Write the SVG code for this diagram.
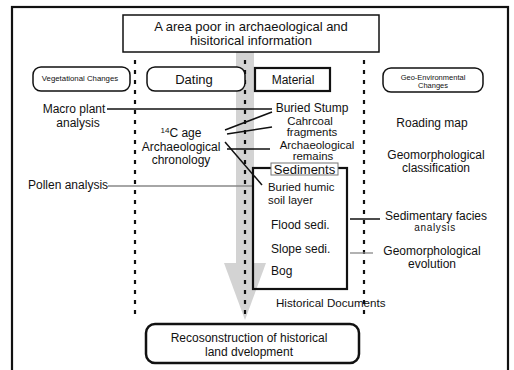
<svg xmlns="http://www.w3.org/2000/svg" width="514" height="370" viewBox="0 0 514 370">
<style>
text{font-family:"Liberation Sans",Arial,sans-serif;fill:#111;}
.t12{font-size:12px;}
.t11{font-size:11.4px;}
.t13{font-size:13px;}
.c{text-anchor:middle;}
.dot{stroke:#111;stroke-width:2.2;stroke-dasharray:4 6;fill:none;}
.ln{stroke:#111;stroke-width:1.5;fill:none;}
.gl{stroke:#888;stroke-width:1.3;fill:none;}
.rbox{fill:#fff;stroke:#111;stroke-width:1.5;}
</style>
<rect x="0" y="0" width="514" height="370" fill="#fff"/>
<rect id="frame" x="12" y="7" width="496" height="370" fill="none" stroke="#111" stroke-width="2.2"/>

<g id="flow-arrow">
<rect x="236" y="52" width="18" height="212" fill="#d3d3d3"/>
<polygon points="224,263 266,263 245,320" fill="#d3d3d3"/>
</g>

<g id="columns">
<line class="dot" x1="135" y1="60" x2="135" y2="318"/>
<line class="dot" x1="245" y1="60" x2="245" y2="318"/>
<line class="dot" x1="364" y1="60" x2="364" y2="318"/>
</g>

<g id="top">
<rect x="123" y="15" width="256" height="37" fill="#fff" stroke="#111" stroke-width="1.5"/>
<text class="t13 c" x="251" y="31">A area poor in archaeological and</text>
<text class="t13 c" x="251" y="45">hisitorical information</text>
</g>

<g id="veg">
<rect class="rbox" x="33" y="67" width="97" height="24" rx="8"/>
<text class="c" x="80" y="81" style="font-size:7.8px">Vegetational Changes</text>
</g>
<g id="dating">
<rect class="rbox" x="147" y="67" width="98" height="24" rx="8"/>
<text class="t13 c" x="194" y="84">Dating</text>
</g>
<g id="material">
<rect x="255" y="68" width="75" height="23" fill="#fff" stroke="#111" stroke-width="2.2"/>
<text class="t12 c" x="293" y="84">Material</text>
</g>
<g id="geo">
<rect class="rbox" x="383" y="68" width="100" height="24" rx="8"/>
<text class="c" x="433" y="80" style="font-size:7.5px">Geo-Environmental</text>
<text class="c" x="433" y="88" style="font-size:7.5px">Changes</text>
</g>

<g id="connectors">
<line class="ln" x1="107" y1="109" x2="272" y2="109"/>
<line class="ln" x1="225" y1="130" x2="272" y2="112"/>
<line class="ln" x1="227" y1="134" x2="272" y2="127"/>
<line class="ln" x1="227" y1="149" x2="270" y2="149"/>
<line class="ln" x1="225" y1="142" x2="262" y2="185"/>
<line class="gl" x1="108" y1="186" x2="254" y2="186"/>
<line class="ln" x1="350" y1="219" x2="380" y2="219"/>
<line class="gl" x1="350" y1="253" x2="373" y2="253"/>
</g>

<g id="left-labels">
<text class="t12 c" x="74" y="113">Macro plant</text>
<text class="t12 c" x="78" y="127">analysis</text>
<text class="t12" x="28" y="189">Pollen analysis</text>
</g>

<g id="dating-labels">
<text class="t12 c" x="181" y="137"><tspan style="font-size:8px" dy="-4">14</tspan><tspan dy="4">C age</tspan></text>
<text class="t12 c" x="181" y="151">Archaeological</text>
<text class="t12 c" x="181" y="164">chronology</text>
</g>

<g id="material-labels">
<text class="t12 c" x="312" y="112">Buried Stump</text>
<text class="t11 c" x="310" y="124.5">Cahrcoal</text>
<text class="t11 c" x="312" y="136">fragments</text>
<text class="t11 c" x="317" y="148.5">Archaeological</text>
<text class="t11 c" x="313" y="160">remains</text>
</g>

<g id="sediments">
<rect x="253" y="168" width="94" height="121" fill="none" stroke="#111" stroke-width="2.2"/>
<rect x="271" y="163" width="67" height="12" fill="#fff" stroke="#777" stroke-width="1"/>
<text class="t13 c" x="304.5" y="173.5">Sediments</text>
<text class="t11" x="268" y="191">Buried humic</text>
<text class="t11" x="268" y="203.5">soil layer</text>
<text class="t12" x="271" y="229">Flood sedi.</text>
<text class="t12" x="271" y="253">Slope sedi.</text>
<text class="t12" x="271" y="275">Bog</text>
</g>

<g id="right-labels">
<text class="t12 c" x="432" y="127">Roading map</text>
<text class="t12 c" x="436" y="158.5">Geomorphological</text>
<text class="t12 c" x="436" y="172">classification</text>
<text class="t12 c" x="436" y="220">Sedimentary facies</text>
<text class="c" x="435" y="231" style="font-size:10px;letter-spacing:0.7px">analysis</text>
<text class="t12 c" x="432" y="254.5">Geomorphological</text>
<text class="t12 c" x="432" y="268">evolution</text>
</g>

<g id="hist">
<text class="t12" x="276" y="307" style="font-size:11.6px">Historical Documents</text>
</g>

<g id="result">
<rect x="146" y="324" width="213" height="39" rx="9" fill="#fff" stroke="#111" stroke-width="2.5"/>
<text class="t12 c" x="249" y="342">Recosonstruction of historical</text>
<text class="t12 c" x="249" y="356">land dvelopment</text>
</g>
</svg>
